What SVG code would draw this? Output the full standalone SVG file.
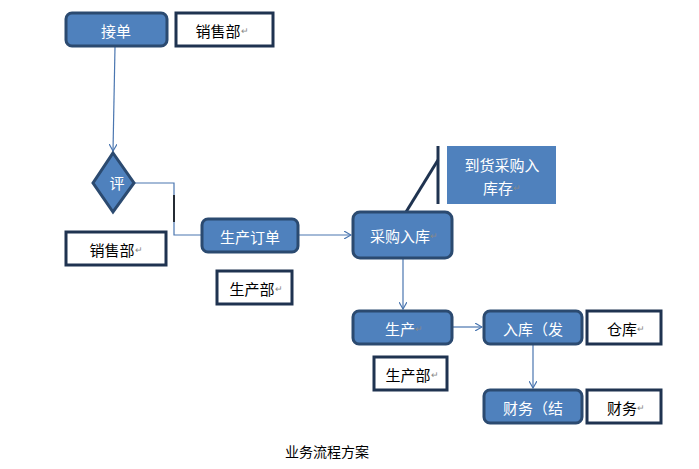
<svg xmlns="http://www.w3.org/2000/svg" width="699" height="469" viewBox="0 0 699 469">
<defs>
<style>
.n{fill:#4f81bd;stroke:#2b4a70;stroke-width:3}
.w{fill:#fff;stroke:#1f3350;stroke-width:3}
.t{font-family:"Noto Sans CJK SC","Liberation Sans",sans-serif;font-size:15px;text-anchor:middle;dominant-baseline:central}
.tw{fill:#fff}
.tb{fill:#000}
.pm{font-size:9px;fill:#888}
.c{fill:none;stroke:#4a76b0;stroke-width:1.2}
</style>
<marker id="a" markerWidth="8" markerHeight="8" refX="7" refY="4" orient="auto" markerUnits="userSpaceOnUse">
<path d="M0,0 L7,4 L0,8" fill="none" stroke="#4a76b0" stroke-width="1.2"/>
</marker>
</defs>
<rect width="699" height="469" fill="#fff"/>
<g id="connectors">
<path class="c" d="M115,47 L113,151" marker-end="url(#a)"/>
<path class="c" d="M134,183 H174 V235 H202"/>
<path d="M174,195 V222" stroke="#000" stroke-width="1.5"/>
<path class="c" d="M298,235 H351" marker-end="url(#a)"/>
<path class="c" d="M403,258 V309" marker-end="url(#a)"/>
<path class="c" d="M452,327 H482" marker-end="url(#a)"/>
<path class="c" d="M533,344 V388" marker-end="url(#a)"/>
<path d="M406,212 L438,160" stroke="#1f3350" stroke-width="3" fill="none"/>
<path d="M438,146 V204" stroke="#1f3350" stroke-width="3" fill="none"/>
</g>
<g id="jiedan"><rect class="n" x="66" y="13" width="101" height="33" rx="6"/><text class="t tw" x="116" y="30">接单</text></g>
<g id="xiaoshou1"><rect class="w" x="176" y="13" width="97" height="33"/><text class="t tb" x="222" y="30">销售部<tspan class="pm">↵</tspan></text></g>
<g id="ping"><polygon class="n" points="113,153 134,183 113,212 93,183"/><text class="t tw" x="117" y="182">评</text></g>
<g id="xiaoshou2"><rect class="w" x="66" y="232" width="100" height="33"/><text class="t tb" x="116" y="249">销售部<tspan class="pm">↵</tspan></text></g>
<g id="shengchandingdan"><rect class="n" x="202" y="219" width="96" height="33" rx="6"/><text class="t tw" x="250" y="236">生产订单</text></g>
<g id="caigou"><rect class="n" x="353" y="212" width="99" height="46" rx="7"/><text class="t tw" x="404" y="235">采购入库<tspan class="pm" fill="#bcd">↵</tspan></text></g>
<g id="daohuo"><rect x="447" y="146" width="109" height="58" fill="#4f81bd"/><text class="t tw" x="502" y="164">到货采购入</text><text class="t tw" x="502" y="187">库存<tspan class="pm" fill="#bcd">↵</tspan></text></g>
<g id="shengchanbu1"><rect class="w" x="217" y="271" width="75" height="33"/><text class="t tb" x="256" y="288">生产部<tspan class="pm">↵</tspan></text></g>
<g id="shengchan"><rect class="n" x="353" y="311" width="99" height="33" rx="6"/><text class="t tw" x="404" y="328">生产<tspan class="pm" fill="#bcd">↵</tspan></text></g>
<g id="ruku"><rect class="n" x="484" y="311" width="98" height="33" rx="6"/><text class="t tw" x="533" y="328">入库（发</text></g>
<g id="cangku"><rect class="w" x="587" y="311" width="74" height="33"/><text class="t tb" x="626" y="328">仓库<tspan class="pm">↵</tspan></text></g>
<g id="shengchanbu2"><rect class="w" x="374" y="357" width="73" height="33"/><text class="t tb" x="412" y="374">生产部<tspan class="pm">↵</tspan></text></g>
<g id="caiwujie"><rect class="n" x="484" y="390" width="98" height="33" rx="6"/><text class="t tw" x="533" y="407">财务（结</text></g>
<g id="caiwu"><rect class="w" x="587" y="390" width="74" height="33"/><text class="t tb" x="626" y="407">财务<tspan class="pm">↵</tspan></text></g>
<text class="t tb" x="327" y="451" style="font-size:14px">业务流程方案</text>
</svg>
